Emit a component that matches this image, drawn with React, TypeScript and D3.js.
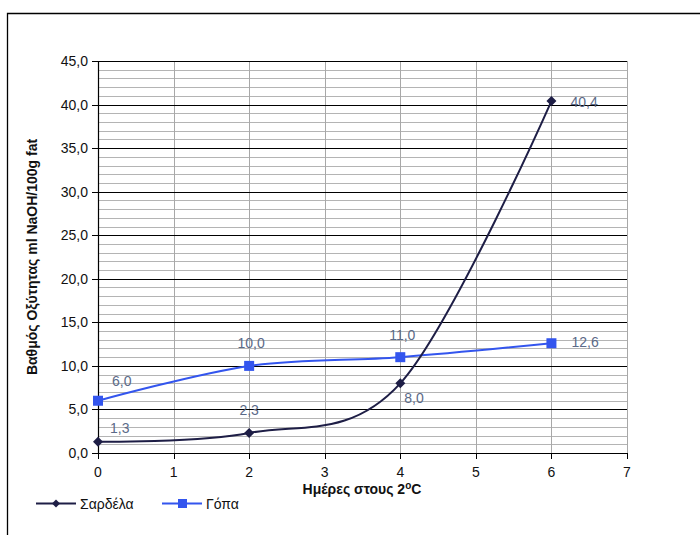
import React from "react";
import * as d3 from "d3";

const days = [0, 2, 4, 6];
const sardela = [1.3, 2.3, 8.0, 40.4];
const gopa = [6.0, 10.0, 11.0, 12.6];
const sardelaLabels = ["1,3", "2,3", "8,0", "40,4"];
const gopaLabels = ["6,0", "10,0", "11,0", "12,6"];
const xTicks = [0, 1, 2, 3, 4, 5, 6, 7];
const yMajor = [0, 5, 10, 15, 20, 25, 30, 35, 40, 45];
const yMinor = d3.range(0, 46, 1);

const W = 700;
const H = 535;
const m = { left: 98, right: 627, top: 61, bottom: 453 };

export default function App() {
  const x = d3.scaleLinear().domain([0, 7]).range([m.left, m.right]);
  const y = d3.scaleLinear().domain([0, 45]).range([m.bottom, m.top]);
  const line = d3
    .line<[number, number]>()
    .x((d) => x(d[0]))
    .y((d) => y(d[1]))
    .curve(d3.curveCardinal.tension(0));
  const sData = days.map((d, i) => [d, sardela[i]] as [number, number]);
  const gData = days.map((d, i) => [d, gopa[i]] as [number, number]);
  const dark = "#1e1e46";
  const blue = "#3355ee";
  const labelCol = "#5b6a88";
  const font = "Arial, 'Liberation Sans', sans-serif";

  // label offsets per point (dx, dy, anchor)
  const sOff = [
    [12, -9, "start"],
    [0, -18, "middle"],
    [4, 20, "start"],
    [19, 6, "start"],
  ];
  const gOff = [
    [14, -15, "start"],
    [2, -18, "middle"],
    [2, -17, "middle"],
    [20, 4, "start"],
  ];

  const diamond = (cx: number, cy: number, r: number) =>
    `M${cx},${cy - r}L${cx + r},${cy}L${cx},${cy + r}L${cx - r},${cy}Z`;

  return (
    <svg
      width={W}
      height={H}
      style={{ position: "absolute", left: 0, top: 0, background: "#fff" }}
      fontFamily={font}
    >
      <rect x={0} y={0} width={W} height={H} fill="#fff" />
      <path d={`M7.5,${H}V13.5H${W}`} fill="none" stroke="#000" strokeWidth={1.3} />
      {/* minor horizontal grid */}
      {yMinor
        .filter((v) => v % 5 !== 0)
        .map((v) => (
          <line
            key={"mn" + v}
            x1={m.left}
            x2={m.right}
            y1={Math.round(y(v)) + 0.5}
            y2={Math.round(y(v)) + 0.5}
            stroke="#b4b4b4"
            strokeWidth={1}
          />
        ))}
      {/* vertical grid */}
      {xTicks.slice(1).map((v) => (
        <line
          key={"vg" + v}
          x1={Math.round(x(v)) + 0.5}
          x2={Math.round(x(v)) + 0.5}
          y1={m.top}
          y2={m.bottom}
          stroke="#a8a8a8"
          strokeWidth={1}
        />
      ))}
      {/* major horizontal grid */}
      {yMajor.map((v) => (
        <line
          key={"mj" + v}
          x1={m.left - 6}
          x2={m.right}
          y1={Math.round(y(v)) + 0.5}
          y2={Math.round(y(v)) + 0.5}
          stroke="#000"
          strokeWidth={1.2}
        />
      ))}
      {/* y axis */}
      <line x1={m.left + 0.5} x2={m.left + 0.5} y1={m.top} y2={m.bottom} stroke="#000" strokeWidth={1.2} />
      {/* x ticks */}
      {xTicks.map((v) => (
        <line
          key={"xt" + v}
          x1={Math.round(x(v)) + 0.5}
          x2={Math.round(x(v)) + 0.5}
          y1={m.bottom}
          y2={m.bottom + 6}
          stroke="#000"
          strokeWidth={1}
        />
      ))}
      {xTicks.map((v) => (
        <text key={"xl" + v} x={x(v)} y={m.bottom + 24} fontSize={14} textAnchor="middle" fill="#111">
          {v}
        </text>
      ))}
      {yMajor.map((v) => (
        <text key={"yl" + v} x={m.left - 10} y={y(v) + 5} fontSize={14} textAnchor="end" fill="#111">
          {v.toFixed(1).replace(".", ",")}
        </text>
      ))}
      {/* axis titles */}
      <text x={362} y={494} fontSize={14} fontWeight="bold" textAnchor="middle" fill="#111">
        Ημέρες στους 2<tspan fontSize={10} dy={-5}>o</tspan>
        <tspan dy={5}>C</tspan>
      </text>
      <text
        transform={`translate(37,${(m.top + m.bottom) / 2}) rotate(-90)`}
        fontSize={14}
        fontWeight="bold"
        textAnchor="middle"
        fill="#111"
      >
        Βαθμός Οξύτητας ml NaOH/100g fat
      </text>
      {/* series */}
      <path d={line(gData) || ""} fill="none" stroke={blue} strokeWidth={2} />
      <path d={line(sData) || ""} fill="none" stroke={dark} strokeWidth={2} />
      {gData.map((d, i) => (
        <rect key={"gm" + i} x={x(d[0]) - 5} y={y(d[1]) - 5} width={10} height={10} fill={blue} />
      ))}
      {sData.map((d, i) => (
        <path key={"sm" + i} d={diamond(x(d[0]), y(d[1]), 5)} fill={dark} />
      ))}
      {/* data labels */}
      {sData.map((d, i) => (
        <text
          key={"sl" + i}
          x={x(d[0]) + (sOff[i][0] as number)}
          y={y(d[1]) + (sOff[i][1] as number)}
          fontSize={14}
          textAnchor={sOff[i][2] as any}
          fill={labelCol}
        >
          {sardelaLabels[i]}
        </text>
      ))}
      {gData.map((d, i) => (
        <text
          key={"gl" + i}
          x={x(d[0]) + (gOff[i][0] as number)}
          y={y(d[1]) + (gOff[i][1] as number)}
          fontSize={14}
          textAnchor={gOff[i][2] as any}
          fill={labelCol}
        >
          {gopaLabels[i]}
        </text>
      ))}
      {/* legend */}
      <line x1={36} x2={76} y1={503.5} y2={503.5} stroke={dark} strokeWidth={2} />
      <path d={diamond(56, 503.5, 4)} fill={dark} />
      <text x={80} y={509} fontSize={14} fill="#111">
        Σαρδέλα
      </text>
      <line x1={162} x2={202} y1={503.5} y2={503.5} stroke={blue} strokeWidth={2} />
      <rect x={178} y={499} width={9} height={9} fill={blue} />
      <text x={206} y={509} fontSize={14} fill="#111">
        Γόπα
      </text>
    </svg>
  );
}
